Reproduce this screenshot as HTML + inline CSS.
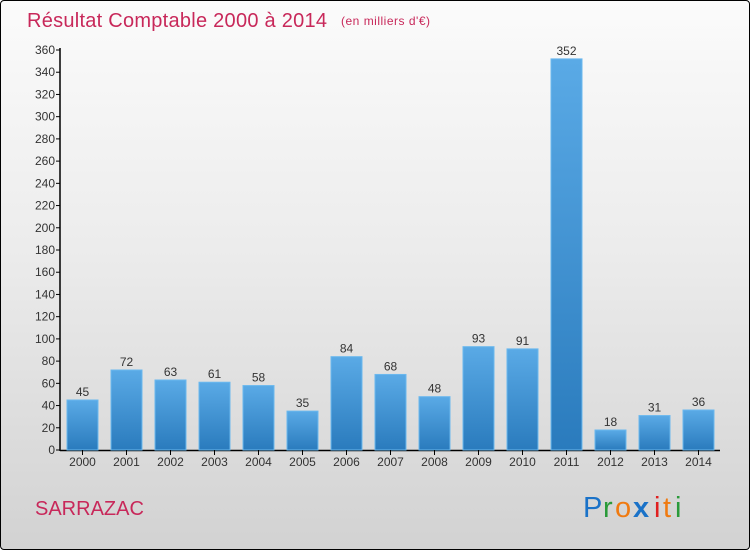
<!DOCTYPE html>
<html><head><meta charset="utf-8"><style>
html,body{margin:0;padding:0}
body{width:750px;height:550px;overflow:hidden;font-family:"Liberation Sans",sans-serif}
#frame{position:absolute;left:0;top:0;width:748px;height:548px;border:1px solid #000;border-radius:4px;background:linear-gradient(#fbfbfb 0%,#ececec 45%,#d2d2d2 100%)}
</style></head><body>
<div id="frame">
<svg id="chart" width="750" height="550" style="position:absolute;left:-1px;top:-1px">
<defs><linearGradient id="bg" x1="0" y1="0" x2="0" y2="1"><stop offset="0" stop-color="#5aaae6"/><stop offset="1" stop-color="#2a7bbd"/></linearGradient></defs>
<text x="27" y="27" font-size="20" fill="#c8285a" textLength="300">Résultat Comptable 2000 à 2014</text>
<text x="341" y="25" font-size="12" fill="#c8285a" textLength="89">(en milliers d'€)</text>
<text x="35" y="515" font-size="20" fill="#c8285a">SARRAZAC</text>
<g font-size="29" font-family="'Liberation Sans',sans-serif">
<text x="583" y="517" fill="#1a72c8">P</text><text x="603" y="517" fill="#2a9a3a">r</text><text x="615" y="517" fill="#f07a10">o</text><text x="633" y="517" fill="#1a72c8" font-weight="bold">x</text><text x="654" y="517" fill="#e02020">i</text><text x="663" y="517" fill="#f07a10">t</text><text x="675" y="517" fill="#2a9a3a">i</text>
</g>
<g id="plot"></g>
</svg></div>
<script>
const years=["2000","2001","2002","2003","2004","2005","2006","2007","2008","2009","2010","2011","2012","2013","2014"];
const values=[45,72,63,61,58,35,84,68,48,93,91,352,18,31,36];
const yTicks=[0,20,40,60,80,100,120,140,160,180,200,220,240,260,280,300,320,340,360];
const NS="http://www.w3.org/2000/svg";
const g=document.getElementById('plot');
const y=v=>450-v*400/360;
const x=i=>82.5+i*44;
function mk(t,a){const e=document.createElementNS(NS,t);for(const k in a)e.setAttribute(k,a[k]);g.appendChild(e);return e;}
let ax=mk('line',{x1:60,y1:48,x2:60,y2:451,stroke:'#000','stroke-width':1.5});


let bx=mk('line',{x1:60,y1:450.5,x2:720,y2:450.5,stroke:'#000','stroke-width':1.5});


yTicks.forEach(t=>{
 const l=mk('line',{x1:56,x2:60,y1:y(t),y2:y(t),stroke:'#000'});
 
 
 const tx=mk('text',{x:55,y:y(t)+4,'text-anchor':'end','font-size':12,fill:'#333'});
 tx.textContent=t;
 
 
});
values.forEach((v,i)=>{
 const r=mk('rect',{x:x(i)-15.5,y:y(v),width:31,height:450-y(v),fill:'url(#bg)',stroke:'#6ab8ee','stroke-width':1});
 
 
 const vt=mk('text',{x:x(i),y:y(v)-4,'text-anchor':'middle','font-size':12,fill:'#333'});
 vt.textContent=v;
 
 
 const tk=mk('line',{x1:x(i),x2:x(i),y1:450,y2:455,stroke:'#000'});
 
 
 const xt=mk('text',{x:x(i),y:466,'text-anchor':'middle','font-size':12,fill:'#333'});
 xt.textContent=years[i];
 
 
});
</script>
</body></html>
